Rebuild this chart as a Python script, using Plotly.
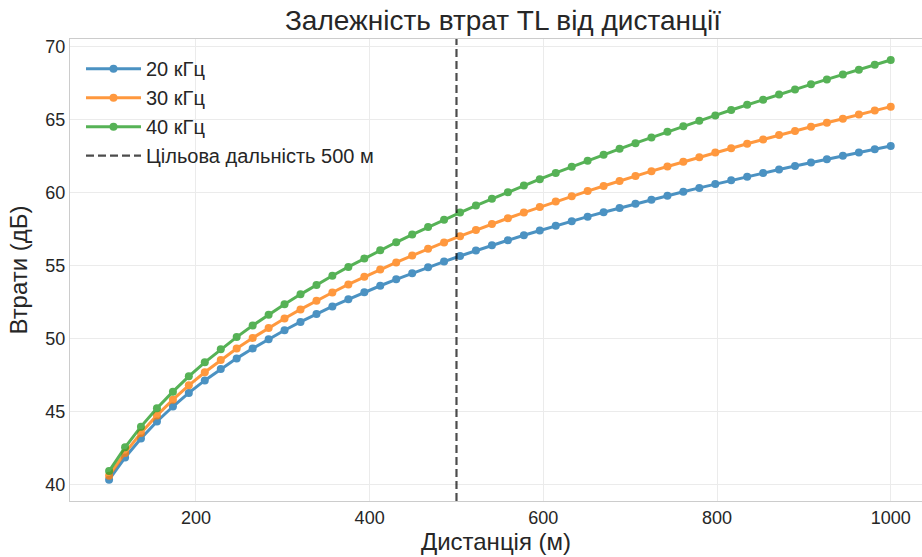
import plotly.graph_objects as go

distances = [100.0, 118.4, 136.7, 155.1, 173.5, 191.8, 210.2, 228.6, 246.9, 265.3,
             283.7, 302.0, 320.4, 338.8, 357.1, 375.5, 393.9, 412.2, 430.6, 449.0,
             467.3, 485.7, 504.1, 522.4, 540.8, 559.2, 577.6, 595.9, 614.3, 632.7,
             651.0, 669.4, 687.8, 706.1, 724.5, 742.9, 761.2, 779.6, 798.0, 816.3,
             834.7, 853.1, 871.4, 889.8, 908.2, 926.5, 944.9, 963.3, 981.6, 1000.0]

tl_20k = [40.32, 41.84, 43.15, 44.31, 45.34, 46.27, 47.13, 47.91, 48.64, 49.32,
          49.96, 50.57, 51.14, 51.68, 52.20, 52.69, 53.17, 53.62, 54.06, 54.48,
          54.89, 55.28, 55.66, 56.03, 56.39, 56.74, 57.08, 57.41, 57.73, 58.05,
          58.36, 58.66, 58.95, 59.24, 59.52, 59.80, 60.07, 60.33, 60.59, 60.85,
          61.10, 61.35, 61.59, 61.83, 62.07, 62.30, 62.53, 62.76, 62.98, 63.20]

tl_30k = [40.59, 42.16, 43.52, 44.73, 45.81, 46.79, 47.69, 48.53, 49.31, 50.04,
          50.73, 51.38, 52.00, 52.60, 53.16, 53.71, 54.23, 54.74, 55.22, 55.69,
          56.15, 56.59, 57.02, 57.44, 57.85, 58.25, 58.64, 59.02, 59.39, 59.76,
          60.11, 60.46, 60.81, 61.14, 61.48, 61.80, 62.12, 62.44, 62.75, 63.05,
          63.36, 63.65, 63.95, 64.24, 64.52, 64.80, 65.08, 65.36, 65.63, 65.90]

tl_40k = [40.91, 42.54, 43.96, 45.22, 46.36, 47.41, 48.37, 49.26, 50.10, 50.89,
          51.64, 52.35, 53.03, 53.68, 54.31, 54.91, 55.49, 56.05, 56.60, 57.13,
          57.65, 58.15, 58.64, 59.12, 59.58, 60.04, 60.49, 60.93, 61.36, 61.78,
          62.20, 62.61, 63.01, 63.40, 63.79, 64.18, 64.56, 64.93, 65.30, 65.67,
          66.03, 66.38, 66.74, 67.08, 67.43, 67.77, 68.11, 68.44, 68.77, 69.10]

series_names = ["20 кГц", "30 кГц", "40 кГц"]
series_values = [tl_20k, tl_30k, tl_40k]
colors = ["#1f77b4", "#ff7f0e", "#2ca02c"]
target_distance = 500
target_label = "Цільова дальність 500 м"

x_ticks = [200, 400, 600, 800, 1000]
y_ticks = [40, 45, 50, 55, 60, 65, 70]

FONT = "Liberation Sans, Arial, sans-serif"
TEXT = "#262626"
FRAME = "#cccccc"

W, H = 922, 557
ML, MT = 70, 39
PW, PH = 852, 462

fig = go.Figure()
for i, (name, vals, col) in enumerate(zip(series_names, series_values, colors)):
    fig.add_trace(go.Scatter(
        x=distances, y=vals, mode="lines+markers", name=name,
        line=dict(color=col, width=3), marker=dict(color=col, size=8),
        opacity=0.8, legendgroup=f"g{i}",
    ))

dash_line = dict(color="rgba(0,0,0,0.7)", width=2.2, dash="8px,4px")
fig.add_vline(x=target_distance, line=dash_line)
fig.add_trace(go.Scatter(
    x=[None], y=[None], mode="lines", name=target_label,
    line=dash_line, legendgroup="g3",
))

axis_common = dict(
    showgrid=True, gridcolor="#ebebeb", gridwidth=1, zeroline=False,
    showline=True, linecolor=FRAME, linewidth=1.25,
    ticks="", automargin=False,
    tickfont=dict(size=18, color=TEXT, family=FONT),
)

fig.update_layout(
    width=W, height=H,
    margin=dict(l=ML, r=W - ML - PW, t=MT, b=H - MT - PH),
    paper_bgcolor="white", plot_bgcolor="white",
    font=dict(family=FONT, color=TEXT),
    title=dict(text="Залежність втрат TL від дистанції", xref="paper",
               x=(503 - 70) / PW, xanchor="center",
               y=1 - 20 / H, yanchor="middle",
               font=dict(size=28, color=TEXT, family=FONT)),
    xaxis=dict(range=[55, 1036], tickvals=x_ticks, mirror=True,
               title=dict(text="Дистанція (м)", font=dict(size=24, color=TEXT), standoff=4),
               **axis_common),
    yaxis=dict(range=[38.86, 70.54], tickvals=y_ticks, mirror=False,
               title=dict(text="Втрати (дБ)", font=dict(size=24, color=TEXT), standoff=10),
               **axis_common),
    legend=dict(x=(81 - 70) / PW, y=0.978, xanchor="left", yanchor="top",
                bgcolor="rgba(0,0,0,0)", font=dict(size=20, color=TEXT, family=FONT),
                tracegroupgap=0, itemwidth=55),
    showlegend=True,
)

fig.write_html(
    "out.html",
    config={"displayModeBar": False},
    post_script="document.body.style.margin='0';document.body.style.overflow='hidden';",
)
